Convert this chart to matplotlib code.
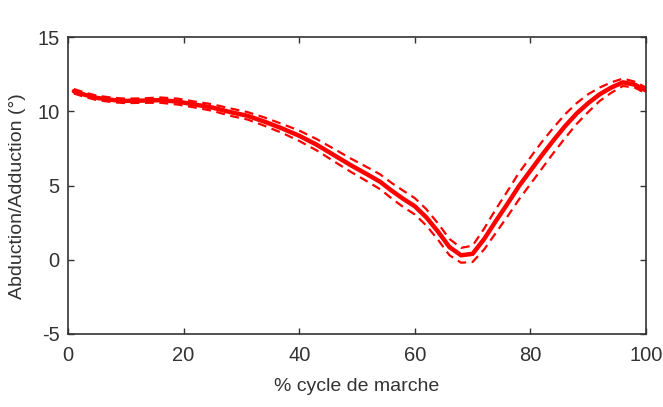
import numpy as np
import matplotlib
matplotlib.use('Agg')
import matplotlib.pyplot as plt

plt.rcParams['font.family'] = ['Liberation Sans', 'DejaVu Sans']
plt.rcParams['axes.unicode_minus'] = False

# % of gait cycle and mean abduction/adduction angle (deg)
pct = [1, 3, 5, 8, 10, 13, 16, 19, 22, 25, 28, 31, 34, 37, 40, 43, 46, 49, 52,
       54, 56, 58, 60, 62, 64, 66, 68, 70, 72, 74, 76, 78, 80, 82, 84, 86, 88,
       90, 92, 94, 96, 98, 100]
mean = [11.35, 11.1, 10.9, 10.75, 10.7, 10.72, 10.75, 10.65, 10.45, 10.25, 9.95,
        9.7, 9.3, 8.85, 8.35, 7.75, 7.05, 6.35, 5.7, 5.25, 4.65, 4.1, 3.6, 2.85,
        1.9, 0.85, 0.3, 0.4, 1.4, 2.6, 3.75, 4.95, 6.0, 7.05, 8.05, 9.0, 9.85,
        10.55, 11.15, 11.6, 11.95, 11.8, 11.4]
# standard deviation band (dashed lines = mean +/- sd)
sd = [0.15, 0.15, 0.15, 0.15, 0.15, 0.15, 0.18, 0.2, 0.2, 0.22, 0.25,
      0.25, 0.28, 0.3, 0.35, 0.38, 0.42, 0.45, 0.48, 0.5, 0.52, 0.55, 0.55,
      0.55, 0.55, 0.55, 0.5, 0.55, 0.7, 0.8, 0.85, 0.9, 0.9, 0.9, 0.85,
      0.8, 0.7, 0.6, 0.45, 0.35, 0.25, 0.2, 0.2]

pct = np.array(pct)
mean = np.array(mean)
sd = np.array(sd)

fig = plt.figure(figsize=(6.63, 4.07), dpi=100)
ax = fig.add_axes([0.1026, 0.1794, 0.8718, 0.7296])

ax.plot(pct, mean, color='#ff0000', lw=3.2, solid_capstyle='round')
ax.plot(pct, mean + sd, color='#ff0000', lw=1.6, dashes=(4, 2.5))
ax.plot(pct, mean - sd, color='#ff0000', lw=1.6, dashes=(4, 2.5))

ax.set_xlim(0, 100)
ax.set_ylim(-5, 15)
ax.set_xticks([0, 20, 40, 60, 80, 100])
ax.set_yticks([-5, 0, 5, 10, 15])
ax.tick_params(direction='in', top=True, right=True, length=4, width=1,
               labelsize=14.5, colors='#333333')
ax.tick_params(axis='x', pad=9)
ax.tick_params(axis='y', pad=6)
for s in ax.spines.values():
    s.set_color('#333333')
    s.set_linewidth(1.2)

ax.set_xlabel('% cycle de marche', fontsize=14, color='#333333', labelpad=9)
ax.set_ylabel('Abduction/Adduction (°)', fontsize=14, color='#333333')
ax.yaxis.set_label_coords(-0.072, 0.465)

fig.savefig('out.png', dpi=100)
